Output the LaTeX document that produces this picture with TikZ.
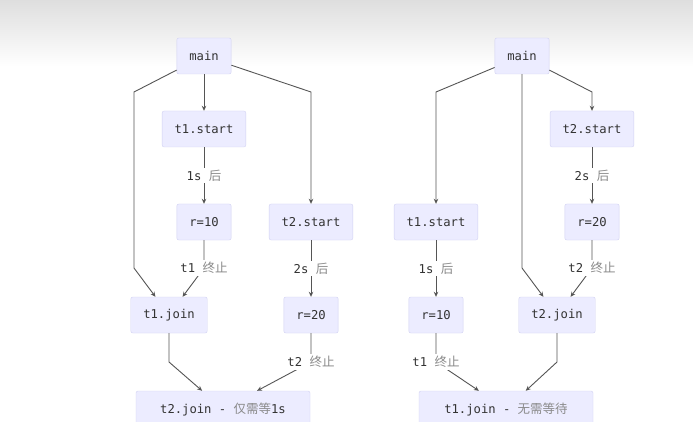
\documentclass[tikz,border=0pt]{standalone}
\usepackage{fontspec}
\setmonofont{DejaVu Sans Mono}
\newfontfamily\cjk{Noto Sans CJK SC}
\usepackage{xcolor}
\usetikzlibrary{arrows.meta}
\definecolor{boxfill}{HTML}{ECECFF}
\definecolor{boxline}{HTML}{D2D2F2}
\definecolor{edgegray}{HTML}{555555}
\definecolor{txtgray}{HTML}{333333}
\definecolor{zhgray}{HTML}{8A8A8A}
\definecolor{topgray}{HTML}{DEDEDE}
\newcommand{\zh}[1]{{\cjk\fontsize{12.5}{14}\selectfont\color{zhgray}#1}}

\begin{document}
\begin{tikzpicture}[x=1pt, y=-1pt,
  box/.style={draw=boxline, fill=boxfill, rounded corners=2pt, minimum height=36pt,
    inner xsep=12.5pt, text=txtgray, font=\ttfamily\fontsize{12.2}{14}\selectfont},
  widebox/.style={box, minimum width=174pt},
  lbl/.style={fill=white, inner sep=2pt, text=txtgray, font=\ttfamily\fontsize{12.2}{14}\selectfont},
  edge/.style={draw=edgegray, line width=0.9pt, -{Stealth[length=5pt, width=4.5pt]}}]
  \clip (0,0) rectangle (693,422);
  \fill[white] (0,0) rectangle (693,422);
  \shade[top color=topgray, bottom color=white] (0,0) rectangle (693,66); %screen top

  % left: t1.join then t2.join
  \node[box] (mainL) at (204,56) {main};
  \node[box] (t1startL) at (204,129) {t1.start};
  \node[box] (r10L) at (204,222) {r=10};
  \node[box] (t2startL) at (311,222) {t2.start};
  \node[box] (t1joinL) at (169,315) {t1.join};
  \node[box] (r20L) at (311,315) {r=20};
  \node[widebox] (t2joinL) at (223,409) {t2.join - \zh{仅需等}1s};

  \draw[edge] (mainL) -- (t1startL);
  \draw[edge] (mainL) -- (134,92) -- (134,268) -- (t1joinL);
  \draw[edge] (mainL) -- (311,92) -- (t2startL);
  \draw[edge] (t1startL) -- node[lbl] (wait1L) {1s \zh{后}} (r10L);
  \draw[edge] (r10L) -- (204,268) node[lbl] (end1L) {t1 \zh{终止}} -- (t1joinL);
  \draw[edge] (t2startL) -- node[lbl] (wait2L) {2s \zh{后}} (r20L);
  \draw[edge] (t1joinL) -- (169,362) -- (t2joinL);
  \draw[edge] (r20L) -- (311,362) node[lbl] (end2L) {t2 \zh{终止}} -- (t2joinL);

  % right: t2.join then t1.join
  \node[box] (mainR) at (522,56) {main};
  \node[box] (t2startR) at (592,129) {t2.start};
  \node[box] (r20R) at (592,222) {r=20};
  \node[box] (t1startR) at (436,222) {t1.start};
  \node[box] (r10R) at (436,315) {r=10};
  \node[box] (t2joinR) at (557,315) {t2.join};
  \node[widebox] (t1joinR) at (506,409) {t1.join - \zh{无需等待}};

  \draw[edge] (mainR) -- (436,92) -- (t1startR);
  \draw[edge] (mainR) -- (592,92) -- (t2startR);
  \draw[edge] (mainR) -- (522,268) -- (t2joinR);
  \draw[edge] (t2startR) -- node[lbl] (wait2R) {2s \zh{后}} (r20R);
  \draw[edge] (r20R) -- (592,268) node[lbl] (end2R) {t2 \zh{终止}} -- (t2joinR);
  \draw[edge] (t1startR) -- node[lbl] (wait1R) {1s \zh{后}} (r10R);
  \draw[edge] (r10R) -- (436,362) node[lbl] (end1R) {t1 \zh{终止}} -- (t1joinR);
  \draw[edge] (t2joinR) -- (557,362) -- (t1joinR);
\end{tikzpicture}
\end{document}
